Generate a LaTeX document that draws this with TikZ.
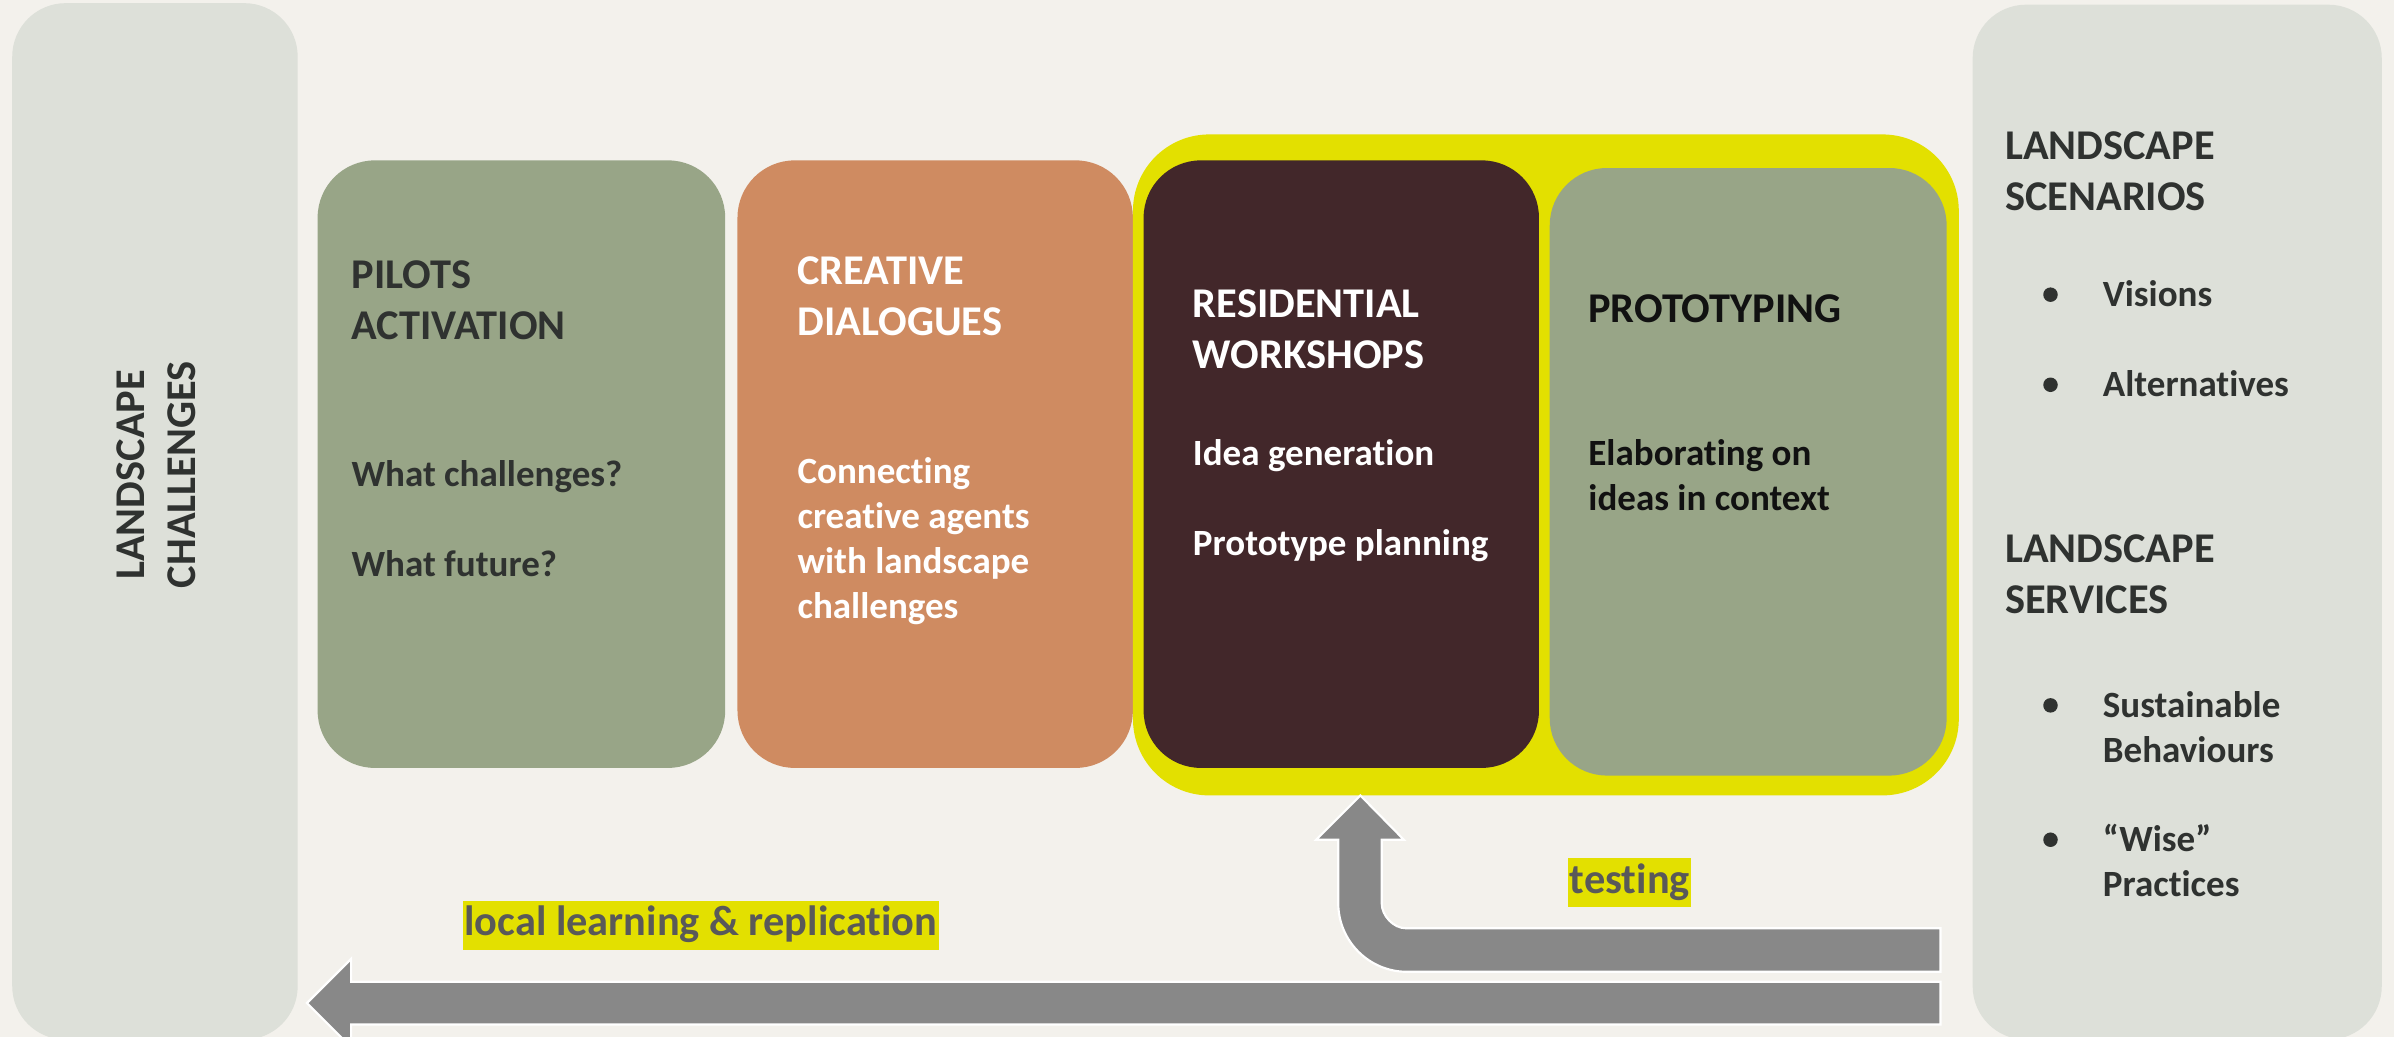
\documentclass[tikz,border=0pt]{standalone}
\usepackage{fontspec}
\setmainfont{Carlito}[Ligatures=NoCommon]
\definecolor{bgc}{HTML}{F3F1EC}
\definecolor{panelc}{HTML}{DDE0D9}
\definecolor{greenc}{HTML}{98A587}
\definecolor{orangec}{HTML}{CF8B61}
\definecolor{brownc}{HTML}{42272A}
\definecolor{yellowc}{HTML}{E3E000}
\definecolor{arrowc}{HTML}{888888}
\definecolor{lblc}{HTML}{595959}
\definecolor{darkc}{HTML}{2F3230}
\definecolor{blackc}{HTML}{111111}
\newcommand{\mystrut}{\rule{0pt}{0.8em}}
\tikzset{
  boxshape/.style={rectangle, inner sep=0pt, draw=none},
  headtxt/.style={anchor=north west, inner sep=0pt, align=left, font=\fontsize{15.8}{19}\selectfont\bfseries},
  bodytxt/.style={anchor=north west, inner sep=0pt, align=left, font=\fontsize{13.8}{16.8}\selectfont\bfseries},
  lbltxt/.style={fill=yellowc, text=lblc, inner xsep=0.6pt, inner ysep=0pt, minimum height=0.64cm, text height=0.88em, text depth=0.08em, font=\fontsize{15.8}{19}\selectfont\bfseries},
  bigarrow/.style={fill=arrowc, draw=white, line width=0.8pt, line join=miter},
  bulletdot/.style={circle, fill=darkc, inner sep=0pt, minimum size=0.19cm},
}
\begin{document}
\begin{tikzpicture}[x=0.02cm,y=-0.02cm]
\useasboundingbox (0,0) rectangle (1568,679);
\clip (0,0) rectangle (1568,679);
\fill[bgc] (0,0) rectangle (1568,679);

% side panels
\node[boxshape, fill=panelc, rounded corners=0.7cm, minimum width=3.74cm, minimum height=13.58cm] (leftpanel) at (101.5,341.5) {};
\node[boxshape, fill=panelc, rounded corners=0.7cm, minimum width=5.36cm, minimum height=13.56cm] (rightpanel) at (1426,342) {};

% main boxes
\node[boxshape, fill=greenc, rounded corners=0.75cm, minimum width=5.34cm, minimum height=7.96cm] (pilot) at (341.5,304) {};
\node[boxshape, fill=orangec, rounded corners=0.75cm, minimum width=5.18cm, minimum height=7.96cm] (creative) at (612.5,304) {};
\node[boxshape, fill=yellowc, rounded corners=1.0cm, minimum width=10.82cm, minimum height=8.66cm] (yellowbox) at (1012.5,304.5) {};
\node[boxshape, fill=brownc, rounded corners=0.75cm, minimum width=5.18cm, minimum height=7.96cm] (resid) at (878.5,304) {};
\node[boxshape, fill=greenc, rounded corners=0.75cm, minimum width=5.20cm, minimum height=7.96cm] (proto) at (1145,309) {};

% texts in boxes
\node[headtxt, text=darkc] (pilothead) at (230,166.7) {\mystrut PILOTS\\ACTIVATION};
\node[bodytxt, text=darkc] (pilotbody) at (230,298.9) {\mystrut What challenges?\\\mbox{}\\What future?};
\node[headtxt, text=white] (creathead) at (522,163.7) {\mystrut CREATIVE\\DIALOGUES};
\node[bodytxt, text=white] (creatbody) at (522,296.9) {\mystrut Connecting\\creative agents\\with landscape\\challenges};
\node[headtxt, text=white] (residhead) at (781,185.7) {\mystrut RESIDENTIAL\\WORKSHOPS};
\node[bodytxt, text=white] (residbody) at (781,284.9) {\mystrut Idea generation\\\mbox{}\\Prototype planning};
\node[headtxt, text=blackc] (protohead) at (1040,188.7) {\mystrut PROTOTYPING};
\node[bodytxt, text=blackc] (protobody) at (1040,284.9) {\mystrut Elaborating on\\ideas in context};

% left panel
\node[inner sep=0pt, align=center, rotate=90, text=darkc, font=\fontsize{15.8}{19}\selectfont\bfseries] (lefttxt) at (102.5,311) {LANDSCAPE\\CHALLENGES};

% right panel
\node[headtxt, text=darkc] (scenhead) at (1313,81.7) {\mystrut LANDSCAPE\\SCENARIOS};
\node[bodytxt, text=darkc] (visions) at (1377,180.9) {\mystrut Visions};
\node[bodytxt, text=darkc] (altern) at (1377,239.9) {\mystrut Alternatives};
\node[headtxt, text=darkc] (servhead) at (1313,345.7) {\mystrut LANDSCAPE\\SERVICES};
\node[bodytxt, text=darkc] (sustain) at (1377,449.9) {\mystrut Sustainable\\Behaviours};
\node[bodytxt, text=darkc] (wise) at (1377,537.9) {\mystrut “Wise”\\Practices};
\node[bulletdot] (b1) at (1343,193) {};
\node[bulletdot] (b2) at (1343,252) {};
\node[bulletdot] (b3) at (1343,462) {};
\node[bulletdot] (b4) at (1343,550) {};

% arrows
\coordinate (uptip) at (891,521);
\coordinate (lefttip) at (201,657);
\fill[bigarrow] (1271,608) -- (921,608) .. controls (912.2,608) and (905,599.2) .. (905,592)
  -- (905,550) -- (919.5,550) -- (uptip) -- (862,550) -- (876.5,550) -- (876.5,591.5)
  .. controls (876.5,616.35) and (896.65,636.5) .. (921.5,636.5) -- (1271,636.5) -- cycle;
\fill[bigarrow] (1271,643) -- (230,643) -- (230,628) -- (lefttip) -- (230,686) -- (230,671) -- (1271,671) -- cycle;

% labels
\node[lbltxt] (testing) at (1067.5,578) {testing};
\node[lbltxt] (learning) at (459,606) {local learning \& replication};
\end{tikzpicture}
\end{document}
